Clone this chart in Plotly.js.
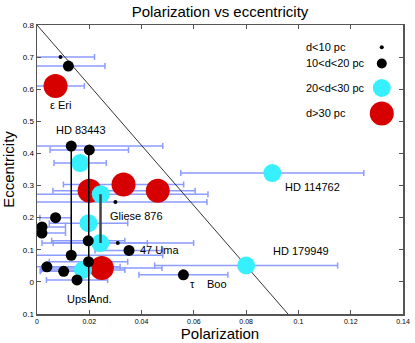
<!DOCTYPE html>
<html>
<head>
<meta charset="utf-8">
<script src="https://cdn.plot.ly/plotly-3.0.1.min.js"></script>
<style>
  html, body { margin: 0; padding: 0; background: #fff; }
  #chart { width: 415px; height: 343px; }
</style>
</head>
<body>
<div id="chart"></div>
<script>
// d < 10 pc
const nearX = [0.009, 0.030, 0.0309];
const nearY = [0.700, 0.249, 0.121];
const nearErr = [0.013, 0.035, 0.029];

// 10 < d < 20 pc
const midX = [0.012, 0.0131, 0.0200, 0.0071, 0.0019, 0.0019, 0.0196, 0.0352, 0.0131, 0.0197, 0.0038, 0.0102, 0.0153, 0.0560];
const midY = [0.672, 0.423, 0.411, 0.200, 0.171, 0.152, 0.128, 0.098, 0.083, 0.063, 0.047, 0.033, 0.006, 0.022];
const midErr = [0.014, 0.035, 0.015, 0.006, 0.009, 0.009, 0.014, 0.013, 0.035, 0.015, 0.028, 0.009, 0.0117, 0.017];

// 20 < d < 30 pc
const farX = [0.0165, 0.0244, 0.0197, 0.0242, 0.0176, 0.0900, 0.0800];
const farY = [0.370, 0.273, 0.183, 0.121, 0.037, 0.339, 0.051];
const farErr = [0.010, 0.041, 0.015, 0.018, 0.016, 0.035, 0.035];

// d > 30 pc
const distX = [0.0071, 0.0201, 0.0331, 0.0462, 0.0248];
const distY = [0.610, 0.284, 0.303, 0.284, 0.043];
const distErr = [0.011, 0.014, 0.023, 0.0143, 0.023];

// diagonal limit line and connectors
const limitX = [0, 0.096];
const limitY = [0.8, -0.1];
const hd83443X = [0.0131, 0.0131];
const hd83443Y = [0.423, 0.083];
const upsAndX = [0.0198, 0.0198];
const upsAndY = [0.411, -0.065];
const glieseX = [0.0243, 0.0243];
const glieseY = [0.273, 0.121];

// star labels
const labelText = ['\u03b5 Eri', 'HD 83443', 'Gliese 876', '47 Uma', 'Ups And.', '\u03c4', 'Boo', 'HD 114762', 'HD 179949'];
const labelX = [0.0089, 0.0169, 0.0382, 0.0385, 0.0200, 0.0595, 0.0687, 0.1053, 0.1011];
const labelY = [0.551, 0.473, 0.206, 0.098, -0.052, -0.008, -0.008, 0.297, 0.095];
const labelAnchor = ['center', 'center', 'center', 'left', 'center', 'center', 'center', 'center', 'center'];

const legendNames = ['d&lt;10 pc', '10&lt;d&lt;20 pc', '20&lt;d&lt;30 pc', 'd&gt;30 pc'];

const xTicks = [0, 0.02, 0.04, 0.06, 0.08, 0.1, 0.12, 0.14];
const xTickText = ['0', '0.02', '0.04', '0.06', '0.08', '0.1', '0.12', '0.14'];
const yTicks = [-0.1, 0, 0.1, 0.2, 0.3, 0.4, 0.5, 0.6, 0.7, 0.8];
const yTickText = ['0.1', '0', '0.1', '0.2', '0.3', '0.4', '0.5', '0.6', '0.7', '0.8'];

const FONT = 'Liberation Sans, Arial, Helvetica, sans-serif';
const groups = [
  { x: nearX, y: nearY, color: '#000000', size: 4 },
  { x: midX, y: midY, color: '#000000', size: 11 },
  { x: farX, y: farY, color: '#36efff', size: 18 },
  { x: distX, y: distY, color: '#d60000', size: 24 },
];
const legendSizes = [4, 10, 18, 24];
const legendRowY = [0.923, 0.867, 0.782, 0.694];

let plotData = [];

// error bars first so every marker sits on top of them
plotData.push({
  x: [].concat(nearX, midX, farX, distX),
  y: [].concat(nearY, midY, farY, distY),
  mode: 'markers',
  marker: { size: 1, color: 'rgba(0,0,0,0)' },
  error_x: {
    type: 'data',
    array: [].concat(nearErr, midErr, farErr, distErr),
    color: '#8c9cff',
    thickness: 1.5,
    width: 3,
  },
  hoverinfo: 'skip',
  showlegend: false,
});

plotData.push({
  x: limitX, y: limitY, mode: 'lines',
  line: { color: '#333333', width: 1 },
  hoverinfo: 'skip', showlegend: false,
});

// draw the biggest markers first
[3, 2, 1, 0].forEach(i => {
  const g = groups[i];
  plotData.push({
    x: g.x, y: g.y, mode: 'markers',
    marker: { size: g.size, color: g.color, opacity: 1, line: { width: 0 } },
    hoverinfo: 'skip', showlegend: false,
  });
});

plotData.push({
  x: hd83443X, y: hd83443Y, mode: 'lines',
  line: { color: '#000000', width: 1.5 }, hoverinfo: 'skip', showlegend: false,
});
plotData.push({
  x: upsAndX, y: upsAndY, mode: 'lines',
  line: { color: '#000000', width: 1.5 }, hoverinfo: 'skip', showlegend: false,
});
plotData.push({
  x: glieseX, y: glieseY, mode: 'lines',
  line: { color: '#444444', width: 2.5 }, hoverinfo: 'skip', showlegend: false,
});

// hand-made key, symbols to the right of the text
plotData.push({
  x: legendRowY.map(() => 0.942),
  y: legendRowY,
  xaxis: 'x2', yaxis: 'y2',
  mode: 'markers',
  marker: { size: legendSizes, color: groups.map(g => g.color), opacity: 1, line: { width: 0 } },
  hoverinfo: 'skip', showlegend: false,
});

const annotations = labelText.map((t, i) => ({
  text: t, x: labelX[i], y: labelY[i], xref: 'x', yref: 'y',
  xanchor: labelAnchor[i], yanchor: 'middle', showarrow: false,
  font: { family: FONT, size: 11, color: '#000' },
}));
legendNames.forEach((t, i) => {
  annotations.push({
    text: t, x: 0.730, y: legendRowY[i], xref: 'paper', yref: 'paper',
    xanchor: 'left', yanchor: 'middle', showarrow: false,
    font: { family: FONT, size: 11, color: '#000' },
  });
});

const axisCommon = {
  showgrid: false,
  zeroline: false,
  showline: true,
  linecolor: '#555555',
  linewidth: 1.5,
  mirror: 'ticks',
  ticks: 'inside',
  ticklen: 4,
  tickcolor: '#555555',
  tickmode: 'array',
  fixedrange: true,
};

const plotLayout = {
  width: 415,
  height: 343,
  margin: { l: 37, r: 12, t: 25, b: 29 },
  paper_bgcolor: '#ffffff',
  plot_bgcolor: '#ffffff',
  font: { family: FONT, color: '#000' },
  title: {
    text: 'Polarization vs eccentricity',
    font: { family: FONT, size: 15, color: '#000' },
    xref: 'paper', x: 0.5, xanchor: 'center',
    yref: 'container', y: 0.965, yanchor: 'middle',
  },
  xaxis: Object.assign({}, axisCommon, {
    range: [0, 0.14],
    tickvals: xTicks,
    ticktext: xTickText,
    tickfont: { family: FONT, size: 7, color: '#000' },
    title: { text: 'Polarization', font: { family: FONT, size: 15, color: '#000' }, standoff: 4 },
  }),
  yaxis: Object.assign({}, axisCommon, {
    range: [-0.1, 0.8],
    tickvals: yTicks,
    ticktext: yTickText,
    tickfont: { family: FONT, size: 8, color: '#000' },
    title: { text: 'Eccentricity', font: { family: FONT, size: 15, color: '#000' }, standoff: 4 },
  }),
  xaxis2: { overlaying: 'x', range: [0, 1], visible: false, fixedrange: true },
  yaxis2: { overlaying: 'y', range: [0, 1], visible: false, fixedrange: true },
  annotations: annotations,
  showlegend: false,
};

Plotly.newPlot('chart', plotData, plotLayout, { displayModeBar: false, staticPlot: true });
</script>
</body>
</html>
